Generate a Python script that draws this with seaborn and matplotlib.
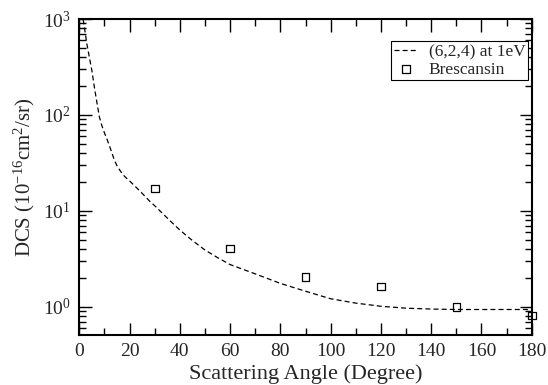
import numpy as np
import pandas as pd
import matplotlib
matplotlib.use("Agg")
import matplotlib.pyplot as plt
import seaborn as sns
from matplotlib.ticker import MultipleLocator, LogLocator

# Theory curve: (6,2,4) at 1eV
theory_angle = [1, 2, 3, 4, 5, 6, 7, 8, 9, 10, 11, 12, 13, 14, 15, 16, 17, 18, 19,
                20, 24, 28, 30, 35, 40, 45, 50, 55, 60, 70, 80, 90, 100, 110, 120,
                130, 140, 150, 160, 170, 180]
theory_dcs = [1200, 830, 550, 400, 290, 195, 135, 95, 77, 65, 56, 47.5, 40, 33.5,
              29.5, 26.8, 24.6, 22.9, 21.6, 20.5, 16.2, 12.6, 11.3, 8.4, 6.3, 4.9,
              3.9, 3.25, 2.75, 2.2, 1.75, 1.45, 1.21, 1.09, 1.01, 0.965, 0.945,
              0.935, 0.935, 0.935, 0.935]

# Brescansin data
exp_angle = [30, 60, 90, 120, 150, 180]
exp_dcs = [17.1, 4.05, 2.03, 1.62, 1.0, 0.81]

theory_label = "(6,2,4) at 1eV"
exp_label = "Brescansin"
xlabel = "Scattering Angle (Degree)"
ylabel = r"DCS (10$^{-16}$cm$^{2}$/sr)"

sns.set_style("ticks")
plt.rcParams["font.family"] = ["Liberation Serif", "DejaVu Serif"]
plt.rcParams["mathtext.fontset"] = "custom"
plt.rcParams["mathtext.rm"] = "Liberation Serif"
plt.rcParams["mathtext.it"] = "Liberation Serif:italic"
plt.rcParams["mathtext.bf"] = "Liberation Serif:bold"

fig = plt.figure(figsize=(5.48, 3.85), dpi=100)
ax = fig.add_axes([0.1447, 0.1299, 0.9703 - 0.1447, 0.9506 - 0.1299])

df_t = pd.DataFrame({"angle": theory_angle, "dcs": theory_dcs})
df_e = pd.DataFrame({"angle": exp_angle, "dcs": exp_dcs})

sns.lineplot(data=df_t, x="angle", y="dcs", ax=ax, color="black", lw=0.9,
             label=theory_label)
ax.lines[-1].set_dashes([4, 2.5])
sns.scatterplot(data=df_e, x="angle", y="dcs", ax=ax, marker="s", s=30,
                facecolor="none", edgecolor="black", linewidth=0.9,
                label=exp_label, clip_on=False, zorder=5)

ax.set_yscale("log")
ax.set_xlim(0, 180)
ax.set_ylim(0.507, 1000)
ax.xaxis.set_major_locator(MultipleLocator(20))
ax.xaxis.set_minor_locator(MultipleLocator(10))
ax.yaxis.set_major_locator(LogLocator(base=10, numticks=10))
ax.yaxis.set_minor_locator(LogLocator(base=10, subs=np.arange(2, 10), numticks=20))

ax.tick_params(which="both", direction="in", top=True, right=True, color="black")
ax.tick_params(which="major", length=9, width=1.0, labelsize=14, pad=6)
ax.tick_params(which="minor", length=5, width=1.0)
for sp in ax.spines.values():
    sp.set_linewidth(1.5)
    sp.set_color("black")

ax.set_xlabel(xlabel, fontsize=16, labelpad=3)
ax.set_ylabel(ylabel, fontsize=15, labelpad=4)

leg = ax.legend(loc="upper right", bbox_to_anchor=(0.992, 0.930), fontsize=12.5,
                frameon=True, fancybox=False, framealpha=1, edgecolor="black",
                handlelength=1.4, handletextpad=0.6, borderpad=0.15,
                labelspacing=0.1, borderaxespad=0.0)
leg.get_frame().set_linewidth(0.8)

fig.savefig("out.png", dpi=100)
